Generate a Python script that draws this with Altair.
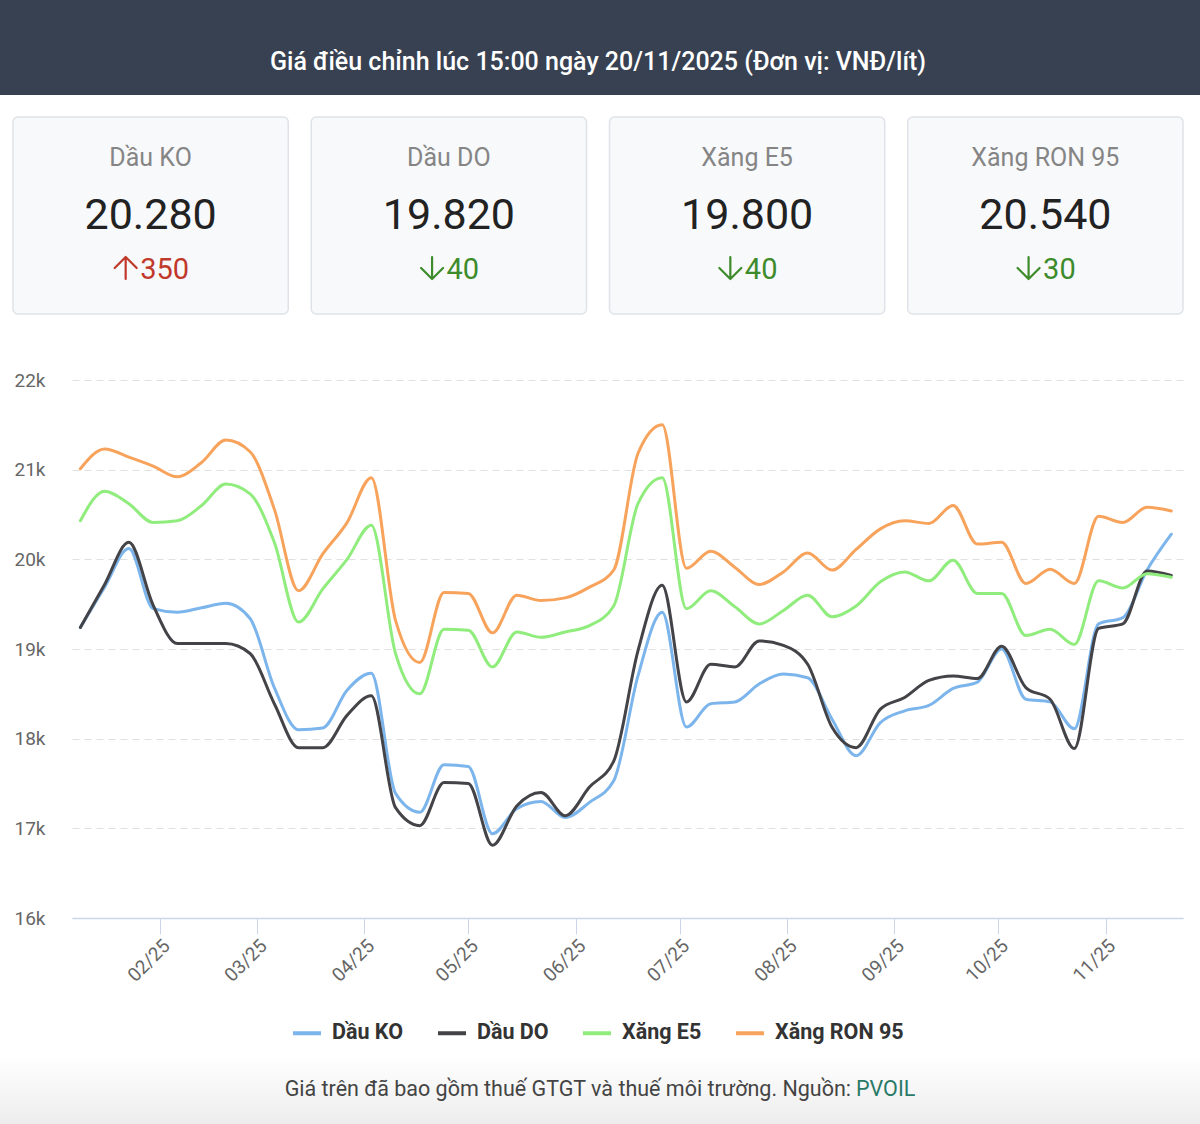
import altair as alt
import pandas as pd

# ---------------- data ----------------
header_title = "Giá điều chỉnh lúc 15:00 ngày 20/11/2025 (Đơn vị: VNĐ/lít)"
footer_text = "Giá trên đã bao gồm thuế GTGT và thuế môi trường. Nguồn:"
footer_source = "PVOIL"

card_labels = ["Dầu KO", "Dầu DO", "Xăng E5", "Xăng RON 95"]
card_prices = [20280, 19820, 19800, 20540]
card_changes = [350, -40, -40, -30]

series_names = ["Dầu KO", "Dầu DO", "Xăng E5", "Xăng RON 95"]
series_colors = ["#7cb5ec", "#434348", "#90ed7d", "#f7a35c"]

dates = [
    "2025-01-09", "2025-01-16", "2025-01-23", "2025-01-30",
    "2025-02-06", "2025-02-13", "2025-02-20", "2025-02-27",
    "2025-03-06", "2025-03-13", "2025-03-20", "2025-03-27",
    "2025-04-03", "2025-04-10", "2025-04-17", "2025-04-24",
    "2025-05-01", "2025-05-08", "2025-05-15", "2025-05-22", "2025-05-29",
    "2025-06-05", "2025-06-12", "2025-06-19", "2025-06-26",
    "2025-07-03", "2025-07-10", "2025-07-17", "2025-07-24", "2025-07-31",
    "2025-08-07", "2025-08-14", "2025-08-21", "2025-08-28",
    "2025-09-04", "2025-09-11", "2025-09-18", "2025-09-25",
    "2025-10-02", "2025-10-09", "2025-10-16", "2025-10-23", "2025-10-30",
    "2025-11-06", "2025-11-13", "2025-11-20",
]

ko = [19240, 19690, 20120, 19450, 19410, 19460, 19510, 19340, 18570, 18100,
      18120, 18540, 18730, 17390, 17180, 17710, 17690, 16940, 17220, 17300,
      17120, 17290, 17530, 18700, 19410, 18130, 18390, 18410, 18610, 18720,
      18680, 18220, 17810, 18180, 18310, 18370, 18560, 18630, 19000, 18440,
      18410, 18110, 19280, 19350, 19880, 20280]

do = [19240, 19720, 20190, 19490, 19060, 19060, 19060, 18950, 18390, 17900,
      17900, 18260, 18480, 17230, 17030, 17510, 17500, 16810, 17250, 17400,
      17140, 17460, 17750, 18980, 19710, 18410, 18830, 18800, 19090, 19040,
      18830, 18130, 17900, 18330, 18460, 18650, 18700, 18670, 19030, 18570,
      18440, 17890, 19230, 19280, 19870, 19820]

e5 = [20430, 20760, 20620, 20410, 20430, 20600, 20840, 20730, 20190, 19300,
      19670, 20000, 20380, 18950, 18500, 19220, 19210, 18800, 19190, 19130,
      19190, 19260, 19480, 20620, 20910, 19450, 19650, 19470, 19280, 19430,
      19600, 19360, 19480, 19750, 19860, 19760, 19990, 19620, 19620, 19150,
      19220, 19050, 19760, 19680, 19840, 19800]

ron95 = [21010, 21230, 21140, 21040, 20920, 21080, 21330, 21200, 20560, 19650,
         20060, 20410, 20910, 19320, 18850, 19630, 19620, 19180, 19600, 19540,
         19570, 19690, 19880, 21180, 21500, 19900, 20090, 19910, 19720, 19860,
         20070, 19880, 20110, 20340, 20430, 20400, 20600, 20170, 20190, 19730,
         19890, 19730, 20480, 20410, 20580, 20540]

y_ticks = [16000, 17000, 18000, 19000, 20000, 21000, 22000]

# ---------------- tables ----------------
rows = []
for name, vals in zip(series_names, [ko, do, e5, ron95]):
    for d, v in zip(dates, vals):
        rows.append({"date": d + "T00:00:00", "series": name, "price": v})
df = pd.DataFrame(rows)

cards_df = pd.DataFrame({"label": card_labels, "price": card_prices, "change": card_changes})
one = pd.DataFrame({"k": [0]})

# ---------------- layout ----------------
PW, PH = 1111, 538
PL, PT = 72, 380
FONT = "Roboto"

# ---------------- line chart ----------------
x_enc = alt.X(
    "date:T",
    scale=alt.Scale(domain=[alt.DateTime(year=2025, month=1, date=6, hours=14),
                            alt.DateTime(year=2025, month=11, date=23, hours=9)]),
    axis=alt.Axis(
        values=[alt.DateTime(year=2025, month=m, date=1) for m in range(2, 12)],
        format="%m/%y", labelAngle=-45, labelFontSize=19, labelColor="#666666",
        labelFont=FONT, tickSize=16, tickColor="#ccd6eb", domainColor="#ccd6eb",
        domainWidth=1.5, grid=False, title=None, labelPadding=2, zindex=1,
    ),
)
y_enc = alt.Y(
    "price:Q",
    scale=alt.Scale(domain=[16000, 22000], nice=False, zero=False),
    axis=alt.Axis(
        values=y_ticks, labelExpr="datum.value / 1000 + 'k'", grid=True,
        gridDash=[7, 5], gridColor="#e0e0e0", gridWidth=1.2, domain=False, ticks=False,
        labelPadding=27, labelFontSize=19, labelColor="#666666", labelFont=FONT, title=None,
    ),
)
lines = alt.Chart(df).mark_line(interpolate="monotone", strokeWidth=3, strokeCap="round",
                                strokeJoin="round").encode(
    x=x_enc,
    y=y_enc,
    color=alt.Color(
        "series:N",
        scale=alt.Scale(domain=series_names, range=series_colors),
        legend=alt.Legend(
            orient="none", legendX=219, legendY=1017 - PT, direction="horizontal",
            title=None, labelFontSize=21.5, labelFontWeight="bold", labelColor="#333333",
            labelFont=FONT, symbolType="stroke", symbolStrokeWidth=4, symbolSize=784,
            labelOffset=9, columnPadding=26,
        ),
    ),
    order=alt.Order("date:T"),
)

# ---------------- header ----------------
header = alt.Chart(one).mark_rect(color="#374151").encode(
    x=alt.value(-PL), x2=alt.value(1200 - PL), y=alt.value(-PT), y2=alt.value(95 - PT)
)
title_txt = alt.Chart(pd.DataFrame({"t": [header_title]})).mark_text(
    color="white", fontSize=25, font=FONT, fontWeight=500, align="center", baseline="middle"
).encode(x=alt.value(598 - PL), y=alt.value(62 - PT), text="t:N")

# ---------------- cards ----------------
cx = alt.X("label:N", scale=alt.Scale(domain=card_labels, range=[13 - PL, 1183 - PL],
                                      paddingInner=23 / 298, paddingOuter=0), axis=None)
card_rect = alt.Chart(cards_df).mark_rect(
    cornerRadius=5, fill="#f8f9fb", stroke="#dfe3e8", strokeWidth=1.5
).encode(x=cx, y=alt.value(117 - PT), y2=alt.value(314 - PT))
card_label = alt.Chart(cards_df).mark_text(
    fontSize=25, color="#858585", font=FONT, align="center", baseline="middle"
).encode(x=cx, y=alt.value(158 - PT), text="label:N")
card_value = alt.Chart(cards_df).transform_calculate(
    ptxt="replace(format(datum.price, ','), ',', '.')"
).mark_text(fontSize=43, color="#222222", font=FONT, align="center", baseline="middle").encode(
    x=cx, y=alt.value(216 - PT), text="ptxt:N"
)

ARROW_UNIT = 11.0  # half-size of the arrow glyph in px
change_layers = []
for lab, chg in zip(card_labels, card_changes):
    n = len(str(abs(chg)))
    num_w = n * 0.562 * 29
    start = -(26 + num_w) / 2
    col = "#c0392b" if chg > 0 else "#3d8b2b"
    c = (start + 12.5) / ARROW_UNIT
    if chg > 0:
        path = f"M{c:.3f},1 L{c:.3f},-1 M{c - 1:.3f},0 L{c:.3f},-1 L{c + 1:.3f},0"
    else:
        path = f"M{c:.3f},-1 L{c:.3f},1 M{c - 1:.3f},0 L{c:.3f},1 L{c + 1:.3f},0"
    sub = alt.Chart(cards_df).transform_filter(alt.datum.label == lab)
    arrow = sub.mark_point(shape=path, filled=False, stroke=col, strokeWidth=2.2,
                           size=(2 * ARROW_UNIT) ** 2, opacity=1,
                           strokeCap="round", strokeJoin="round").encode(
        x=cx, y=alt.value(268 - PT))
    num = sub.transform_calculate(
        ntxt="'' + abs(datum.change)"
    ).mark_text(fontSize=29, font=FONT, color=col, align="left",
                baseline="middle", dx=start + 27).encode(
        x=cx, y=alt.value(270 - PT), text="ntxt:N")
    change_layers += [arrow, num]

cards = alt.layer(card_rect, card_label, card_value, *change_layers)

# ---------------- footer ----------------
footer_bg = alt.Chart(one).mark_rect(
    color=alt.Gradient(gradient="linear", x1=0, x2=0, y1=0, y2=1,
                       stops=[alt.GradientStop(offset=0, color="#ffffff"),
                              alt.GradientStop(offset=1, color="#ededed")])
).encode(x=alt.value(-PL), x2=alt.value(1200 - PL), y=alt.value(1055 - PT), y2=alt.value(1124 - PT))
foot1 = alt.Chart(pd.DataFrame({"t": [footer_text]})).mark_text(
    fontSize=21.5, color="#444444", font=FONT, align="right", baseline="middle"
).encode(x=alt.value(851 - PL), y=alt.value(1090 - PT), text="t:N")
foot2 = alt.Chart(pd.DataFrame({"t": [footer_source]})).mark_text(
    fontSize=21.5, color="#2a7a68", font=FONT, align="left", baseline="middle"
).encode(x=alt.value(856 - PL), y=alt.value(1090 - PT), text="t:N")

chart = alt.layer(
    footer_bg, header, title_txt, cards, lines, foot1, foot2
).resolve_scale(x="independent").properties(
    width=PW, height=PH,
    padding={"left": PL, "top": PT, "right": 1200 - PL - PW, "bottom": 1124 - PT - PH},
    autosize=alt.AutoSizeParams(type="none"),
    background="white",
).configure(font=FONT).configure_view(stroke=None)

chart.save("out.html", embed_options={"renderer": "svg", "actions": False})
